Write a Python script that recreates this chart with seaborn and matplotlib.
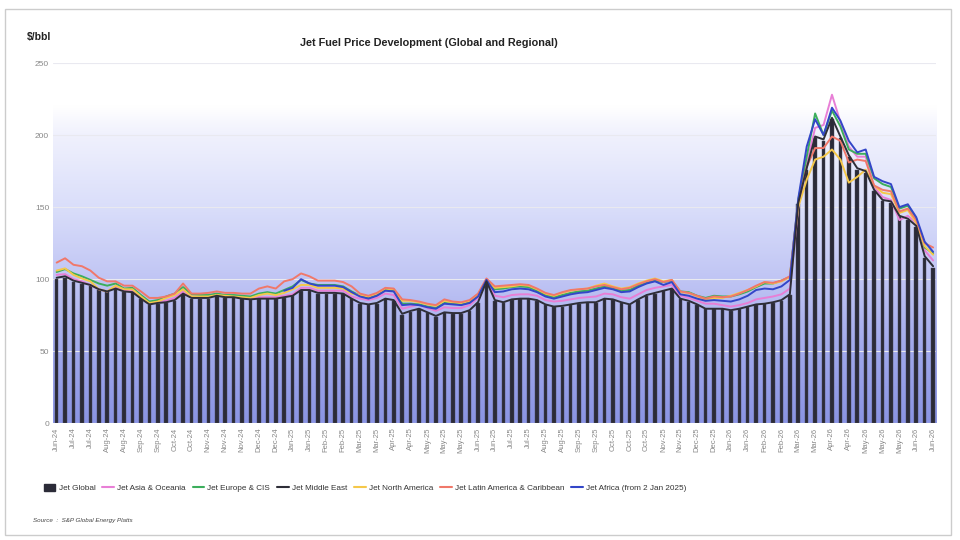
import numpy as np
import pandas as pd
import seaborn as sns
import matplotlib.pyplot as plt
from matplotlib.colors import LinearSegmentedColormap
from matplotlib.patches import Rectangle
from matplotlib.lines import Line2D

# Etiquetas del eje X (una cada dos semanas)
etiquetas = ["Jun-24", "Jul-24", "Jul-24", "Aug-24", "Aug-24", "Sep-24", "Sep-24", "Oct-24", "Oct-24",
             "Nov-24", "Nov-24", "Nov-24", "Dec-24", "Dec-24", "Jan-25", "Jan-25", "Feb-25", "Feb-25",
             "Mar-25", "Mar-25", "Apr-25", "Apr-25", "May-25", "May-25", "May-25", "Jun-25", "Jun-25",
             "Jul-25", "Jul-25", "Aug-25", "Aug-25", "Sep-25", "Sep-25", "Oct-25", "Oct-25", "Oct-25",
             "Nov-25", "Nov-25", "Dec-25", "Dec-25", "Jan-26", "Jan-26", "Feb-26", "Feb-26", "Mar-26",
             "Mar-26", "Apr-26", "Apr-26", "May-26", "May-26", "May-26", "Jun-26", "Jun-26"]

# Precios semanales ($/bbl)
jet_global = [100, 101, 98, 97, 95.5, 92.5, 91, 93, 91, 91, 86, 82, 83, 83.5, 85, 89.5, 86.5, 86.5, 86.5, 88,
              87, 87, 86, 85.5, 86, 86, 86, 87, 88, 92, 92, 90, 90, 90, 90, 86,
              83, 82, 83, 86, 85, 75, 77.5, 79, 76.5, 74, 76.5, 76, 76, 78, 83.5, 98, 85, 83.5, 85.5, 86,
              86, 85, 82, 80.5, 81, 82, 83, 83.5, 83.5, 86, 85.5, 83.5, 82, 85.5, 88.5, 90,
              91.5, 93, 86, 84.5, 82, 79, 79, 79, 78, 79, 80.5, 82, 82.5, 83.5, 85, 89,
              152, 176, 198, 196, 211, 198, 185, 176, 174, 161, 154, 153, 143, 141, 136, 115, 108]

jet_asia = [103, 103.5, 100, 98.5, 96, 93, 91.5, 94.5, 92, 92, 87, 83.5, 84, 85, 87, 91.5, 88, 88, 88, 89,
            88, 88, 87, 86.5, 87.5, 87.5, 87.5, 88.5, 89.5, 94, 94, 92, 92, 92, 92, 88,
            86.5, 85.5, 87, 90, 89, 79.5, 81, 82.5, 80, 78, 80.5, 80, 80, 82, 87, 99, 88.5, 87.5, 89, 89.5,
            89.5, 88.5, 85.5, 84.5, 85, 86, 87, 87.5, 88, 90, 89.5, 87.5, 86.5, 89.5, 92.5, 94,
            95, 96, 88.5, 87, 85, 83, 83, 82, 81, 82, 83.5, 86, 87, 88, 89.5, 93.5,
            150, 180, 205, 207, 228, 209, 192, 185, 185, 164, 157, 155, 141, 144, 139, 120, 113]

jet_europa = [105, 107, 104, 102, 99.5, 97, 95.5, 97, 93.5, 94, 89, 84.5, 85.5, 88, 90, 94.5, 89.5, 89, 89, 90,
              89, 89, 88.5, 88, 90, 91, 90, 92.5, 95, 99.5, 97, 96, 96, 96, 95, 91.5,
              88.5, 87, 89, 92.5, 92, 83, 83, 82.5, 81, 80, 83.5, 83, 82.5, 84, 88.5, 99.5, 93, 93.5, 94.5, 95,
              94.5, 92, 89, 87.5, 89, 90.5, 91.5, 92, 93.5, 95, 94, 92, 92.5, 95.5, 97.5, 99,
              98, 99, 91.5, 91, 88.5, 87, 88.5, 88, 88, 89.5, 91.5, 94.5, 97, 97, 99, 101.5,
              155, 185, 215, 200, 217, 206, 190, 187, 187, 170, 166, 164, 149, 151, 142, 122, 118]

jet_medio_oriente = [101, 102, 99, 97.5, 96, 93, 91.5, 93.5, 91.5, 91, 86.5, 82.5, 83.5, 84, 85.5, 90, 87, 87, 87, 88.5,
                     87.5, 87.5, 86.5, 86, 86.5, 86.5, 86.5, 87.5, 88.5, 92.5, 92.5, 90.5, 90.5, 90.5, 90, 86.5,
                     83.5, 82.5, 83.5, 86.5, 85.5, 76, 78, 79.5, 77, 74.5, 77, 76.5, 76.5, 78.5, 84, 98.5, 85.5, 84, 86, 86.5,
                     86.5, 85.5, 82.5, 81, 81.5, 82.5, 83.5, 84, 84, 86.5, 86, 84, 82.5, 86, 89, 90.5,
                     92, 93.5, 86.5, 85, 82.5, 79.5, 79.5, 79.5, 78.5, 79.5, 81, 82.5, 83, 84, 85.5, 89.5,
                     153, 177, 199, 197, 212, 199, 186, 177, 175, 162, 155, 154, 144, 142, 137, 116, 109]

jet_norteamerica = [106, 107.5, 103, 100.5, 98.5, 93, 91.5, 95.5, 93, 93, 88, 83.5, 84.5, 87, 89, 93, 88, 88, 88, 89,
                    88.5, 88, 87.5, 87, 89, 90, 89, 90.5, 93, 96, 96, 94, 94, 94, 93.5, 90,
                    89, 88, 90, 93.5, 93, 85, 85, 84, 82.5, 81.5, 85, 84, 83.5, 85, 89.5, 99.5, 94, 94.5, 95, 96,
                    95.5, 93, 90, 88.5, 90.5, 92, 93, 93.5, 95.5, 97, 95, 93.5, 94.5, 97, 99, 100.5,
                    98.5, 99.5, 91, 90.5, 88, 86, 87, 87, 88.5, 90.5, 92.5, 95, 98, 97, 98.5, 101.5,
                    150, 169, 183, 185, 190, 183, 167, 171, 176, 165, 160, 159, 146, 148, 139, 123, 117]

jet_latam = [111.5, 114.5, 110, 109, 106, 101, 98.5, 98.5, 95.5, 95.5, 91.5, 87, 87, 88, 90, 97, 90, 90, 90.5, 91.5,
             90.5, 90.5, 90, 90, 93.5, 95, 93.5, 98.5, 100, 104, 102, 99, 99, 99, 98, 95,
             90, 88.5, 90.5, 94, 93.5, 86, 85.5, 84.5, 83, 82, 86, 84.5, 84, 85.5, 90, 100.5, 95, 95.5, 96, 96.5,
             96, 93.5, 90.5, 89, 91, 92.5, 93, 93.5, 95, 96, 94.5, 93, 94, 96.5, 98.5, 100,
             98, 99.5, 91.5, 90.5, 88.5, 86.5, 88, 87.5, 88, 90, 92.5, 95.5, 98, 97.5, 99, 102,
             154, 178, 191, 191, 199, 196, 181, 183, 182, 165, 162, 161, 147, 149, 141, 125, 122]

# Africa solo desde el 2 de enero de 2025
jet_africa = [np.nan] * 27 + [92, 94, 100, 97, 95.5, 95.5, 95.5, 94.5, 91,
              88, 86.5, 88.5, 92, 91.5, 82, 82.5, 82, 80.5, 79.5, 83, 82.5, 82, 83.5, 88, 99.5, 91, 91.5, 93, 93.5,
              93, 91, 88, 86.5, 88, 89.5, 90.5, 91, 92.5, 94, 93, 91, 91.5, 94.5, 97, 98.5,
              96, 98, 89.5, 88.5, 86.5, 85, 85.5, 85, 84.5, 86, 88.5, 92.5, 93.5, 93, 95, 99.5,
              156, 192, 211, 200, 219, 210, 196, 188, 190, 171, 168, 166, 150, 152, 143, 126, 119]

series = {
    "Jet Asia & Oceania": (jet_asia, "#e87fd6"),
    "Jet Europe & CIS": (jet_europa, "#3cae5c"),
    "Jet North America": (jet_norteamerica, "#f5c84a"),
    "Jet Latin America & Caribbean": (jet_latam, "#f0786a"),
    "Jet Africa (from 2 Jan 2025)": (jet_africa, "#3346c8"),
    "Jet Middle East": (jet_medio_oriente, "#2e2e38"),
}
orden_leyenda = ["Jet Asia & Oceania", "Jet Europe & CIS", "Jet Middle East", "Jet North America",
                 "Jet Latin America & Caribbean", "Jet Africa (from 2 Jan 2025)"]

sns.set_style("white")
plt.rcParams['font.family'] = ['Liberation Sans Narrow', 'Liberation Sans', 'DejaVu Sans']

semana = np.arange(len(jet_global))

fig = plt.figure(figsize=(9.6, 5.4), dpi=100)
ax = fig.add_axes([0.0555, 0.2161, 0.920, 0.6672])

# Fondo degradado (azul abajo, blanco arriba)
grad = np.linspace(0, 1, 256).reshape(-1, 1)
cmap_fondo = LinearSegmentedColormap.from_list(
    "fondo", [(0, "#8a94e4"), (0.2, "#a0a8ec"), (0.4, "#c0c5f4"), (0.6, "#dadefa"),
              (0.8, "#f0f1fd"), (0.88, "#ffffff"), (1, "#ffffff")])
ax.imshow(grad, extent=[-0.4, len(semana) - 0.6, 0, 250], aspect="auto", origin="lower",
          cmap=cmap_fondo, zorder=0)

# Barras: Jet Global
sns.barplot(x=semana, y=jet_global, color="#2b2b38", saturation=1, width=0.42,
            edgecolor="#4a4a58", linewidth=0.3, ax=ax, zorder=2)

# Lineas regionales
df_lineas = pd.DataFrame({"semana": semana})
for nombre, (valores, _) in series.items():
    df_lineas[nombre] = valores
df_lineas = df_lineas.melt(id_vars="semana", var_name="serie", value_name="precio").dropna()
paleta = {nombre: color for nombre, (_, color) in series.items()}
sns.lineplot(data=df_lineas, x="semana", y="precio", hue="serie", hue_order=list(series.keys()),
             palette=paleta, linewidth=1.4, legend=False, ax=ax, zorder=3)

ax.set_xlim(-0.4, len(semana) - 0.6)
ax.set_ylim(0, 250)
ax.set_yticks([0, 50, 100, 150, 200, 250])
ax.set_yticklabels(["0", "50", "100", "150", "200", "250"], fontsize=6, color="#888888")
ax.set_xticks(semana[::2])
ax.set_xticklabels(etiquetas, rotation=90, fontsize=5.5, color="#888888")
ax.tick_params(length=0, pad=3)
ax.set_xlabel("")
ax.set_ylabel("")
ax.grid(axis="y", color="#e9e9f0", linewidth=0.8)
ax.set_axisbelow(True)
sns.despine(ax=ax, left=True, bottom=True)

# Textos
fig.text(0.447, 0.92, "Jet Fuel Price Development (Global and Regional)", ha="center", va="center",
         fontsize=7.8, fontweight="bold", color="#222222")
fig.text(0.028, 0.931, "$/bbl", ha="left", va="center", fontsize=7.5, fontweight="bold", color="#222222")
fig.text(0.034, 0.037, "Source  :  S&P Global Energy Platts", ha="left", va="center", fontsize=4.5,
         style="italic", color="#444444")

# Leyenda
handles = [Rectangle((0, 0), 1, 1, facecolor="#2b2b38", edgecolor="#2b2b38")]
for nombre in orden_leyenda:
    handles.append(Line2D([0], [0], color=series[nombre][1], linewidth=1.5))
fig.legend(handles, ["Jet Global"] + orden_leyenda, loc="center left", bbox_to_anchor=(0.038, 0.096),
           ncol=7, frameon=False, fontsize=5.9, handlelength=1.4, handleheight=0.9, handletextpad=0.4,
           columnspacing=0.85, labelcolor="#333333")

# Marco exterior
fig.patches.append(Rectangle((0.0052, 0.0093), 0.9854, 0.974, transform=fig.transFigure,
                             fill=False, edgecolor="#cccccc", linewidth=1.0))

fig.savefig("out.png", dpi=100)
